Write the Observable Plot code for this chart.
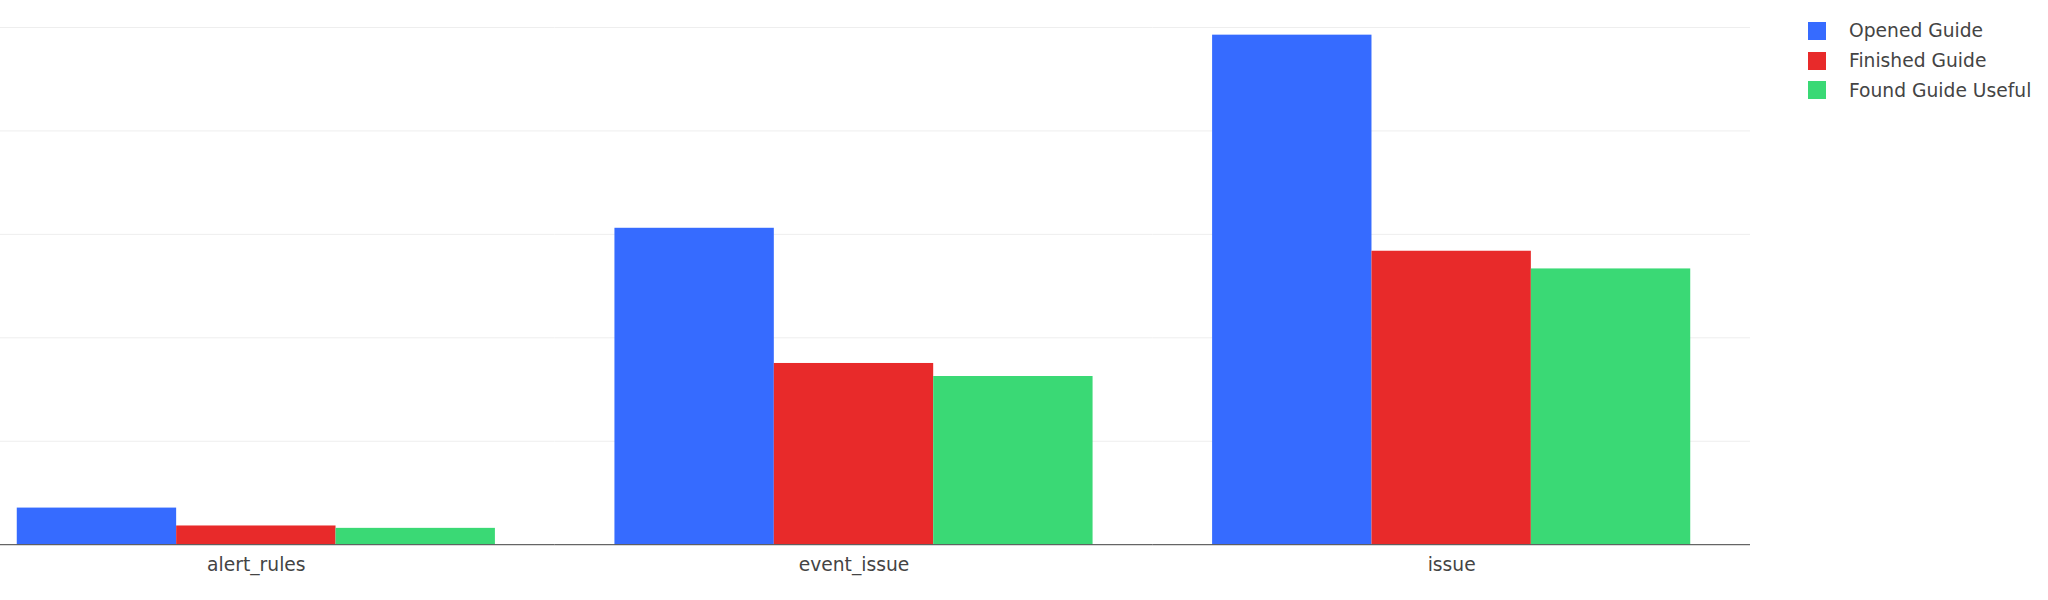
<!DOCTYPE html>
<html>
<head>
<meta charset="utf-8">
<script src="https://cdn.jsdelivr.net/npm/d3@7"></script>
<script src="https://cdn.jsdelivr.net/npm/@observablehq/plot@0.6"></script>
<style>
  html, body { margin: 0; padding: 0; background: #fff; }
  body { width: 2048px; height: 600px; overflow: hidden; position: relative; font-family: "DejaVu Sans", Verdana, sans-serif; }
  #chart { position: absolute; left: -42.75px; top: 0; }
  #chart svg { max-width: none; }
  #legend { position: absolute; left: 1808px; top: 16px; }
  .row { display: flex; align-items: center; height: 29.7px; }
  .sw { width: 18px; height: 18px; margin-right: 23px; }
  .lbl { font-size: 18.7px; color: #444; white-space: nowrap; }
</style>
</head>
<body>
<div id="chart"></div>
<div id="legend"></div>
<script>
const categories = ["alert_rules", "event_issue", "issue"];
const series = ["Opened Guide", "Finished Guide", "Found Guide Useful"];
const colors = ["#366BFF", "#E82A2A", "#3AD975"];
const openedGuide = [35.4, 305.9, 492.6];
const finishedGuide = [18.1, 175.2, 283.7];
const foundGuideUseful = [15.8, 162.6, 266.6];
const yTicks = [0, 100, 200, 300, 400, 500];

const seriesValues = [openedGuide, finishedGuide, foundGuideUseful];
const data = [];
categories.forEach((c, i) => {
  series.forEach((s, j) => {
    data.push({category: c, series: s, value: seriesValues[j][i]});
  });
});

const chart = Plot.plot({
  width: 1793,
  height: 600,
  marginLeft: 0,
  marginRight: 0,
  marginTop: 27,
  marginBottom: 55.8,
  style: {fontFamily: "'DejaVu Sans', Verdana, sans-serif", background: "transparent"},
  fx: {domain: categories, paddingInner: 0, paddingOuter: 0, round: false, axis: null, label: null},
  x: {domain: series, paddingInner: 0, paddingOuter: 0.375, round: false, axis: null},
  y: {domain: [0, 500], axis: null, nice: false},
  color: {domain: series, range: colors},
  marks: [
    Plot.gridY(yTicks, {stroke: "#eeeeee", strokeOpacity: 1, strokeWidth: 1}),
    Plot.barY(data, {fx: "category", x: "series", y: "value", fill: "series", inset: 0}),
    Plot.ruleY([0], {stroke: "#444444", strokeWidth: 1}),
    Plot.axisFx({anchor: "bottom", tickSize: 0, tickPadding: 13, fontSize: 18.7, fill: "#444444", label: null})
  ]
});
document.getElementById("chart").appendChild(chart);

const legend = document.getElementById("legend");
series.forEach((s, j) => {
  const row = document.createElement("div");
  row.className = "row";
  const sw = document.createElement("div");
  sw.className = "sw";
  sw.style.background = colors[j];
  const lbl = document.createElement("span");
  lbl.className = "lbl";
  lbl.textContent = s;
  row.appendChild(sw);
  row.appendChild(lbl);
  legend.appendChild(row);
});
</script>
</body>
</html>
